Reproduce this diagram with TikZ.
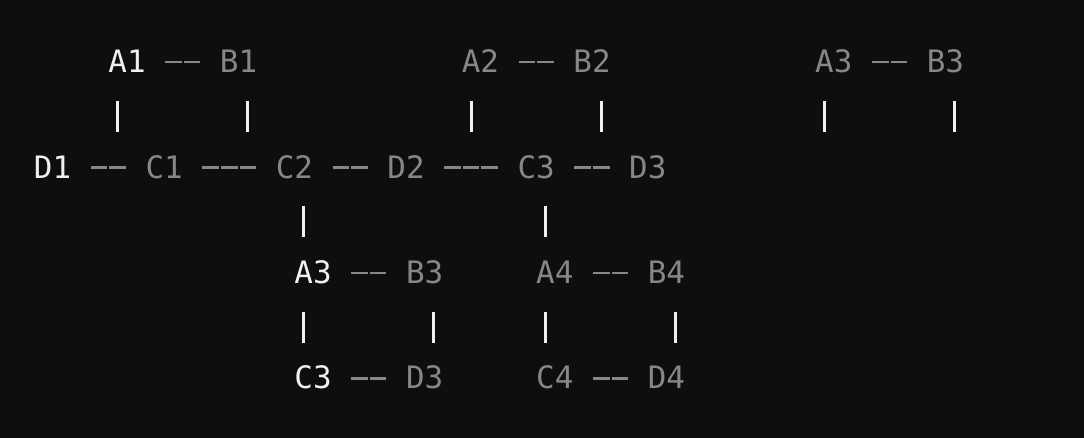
\documentclass[tikz,border=0pt]{standalone}
\usepackage{fontspec}
\newfontfamily\codefont{DejaVu Sans Mono}
\definecolor{screen}{HTML}{0E0E0E}
\definecolor{bright}{HTML}{F0F0F0}
\definecolor{dim}{HTML}{878787}
\tikzset{
  lbl/.style={anchor=base west,inner sep=0pt,outer sep=0pt,text=dim,
              font=\codefont\fontsize{15.45pt}{18pt}\selectfont},
  hot/.style={lbl,text=bright},
  link/.style={draw=dim,line width=1.35pt,dash pattern=on 8.3pt off 1pt,
               shorten <=9.8pt,shorten >=9.8pt},
  pipe/.style={draw=bright,line width=1.5pt}
}
\begin{document}
\begin{tikzpicture}[x=9.3pt,y=-26.35pt]
  \fill[screen] (-17pt,36.35pt) rectangle (525pt,-182.65pt);
  % top row
  \node[hot] (A1) at (4,0) {A1};
  \node[lbl] (B1) at (10,0) {B1};
  \node[lbl] (A2) at (23,0) {A2};
  \node[lbl] (B2) at (29,0) {B2};
  \node[lbl] (A3) at (42,0) {A3};
  \node[lbl] (B3) at (48,0) {B3};
  % middle row
  \node[hot] (D1) at (0,2) {D1};
  \node[lbl] (C1) at (6,2) {C1};
  \node[lbl] (C2) at (13,2) {C2};
  \node[lbl] (D2) at (19,2) {D2};
  \node[lbl] (C3) at (26,2) {C3};
  \node[lbl] (D3) at (32,2) {D3};
  % lower blocks
  \node[hot] (A3b) at (14,4) {A3};
  \node[lbl] (B3b) at (20,4) {B3};
  \node[lbl] (A4) at (27,4) {A4};
  \node[lbl] (B4) at (33,4) {B4};
  \node[hot] (C3b) at (14,6) {C3};
  \node[lbl] (D3b) at (20,6) {D3};
  \node[lbl] (C4) at (27,6) {C4};
  \node[lbl] (D4) at (33,6) {D4};

  \foreach \p/\q in {A1/B1,A2/B2,A3/B3,D1/C1,C1/C2,C2/D2,D2/C3,C3/D3,
                     A3b/B3b,A4/B4,C3b/D3b,C4/D4}
    \draw[link] ([yshift=5.3pt]\p.base east) -- ([yshift=5.3pt]\q.base west);

  \foreach \c/\r in {4/1,11/1,23/1,30/1,42/1,49/1,14/3,27/3,
                     14/5,21/5,27/5,34/5}
    \draw[pipe] (\c+0.5,\r) ++(0,12.25pt) -- ++(0,-15.5pt);
\end{tikzpicture}
\end{document}
